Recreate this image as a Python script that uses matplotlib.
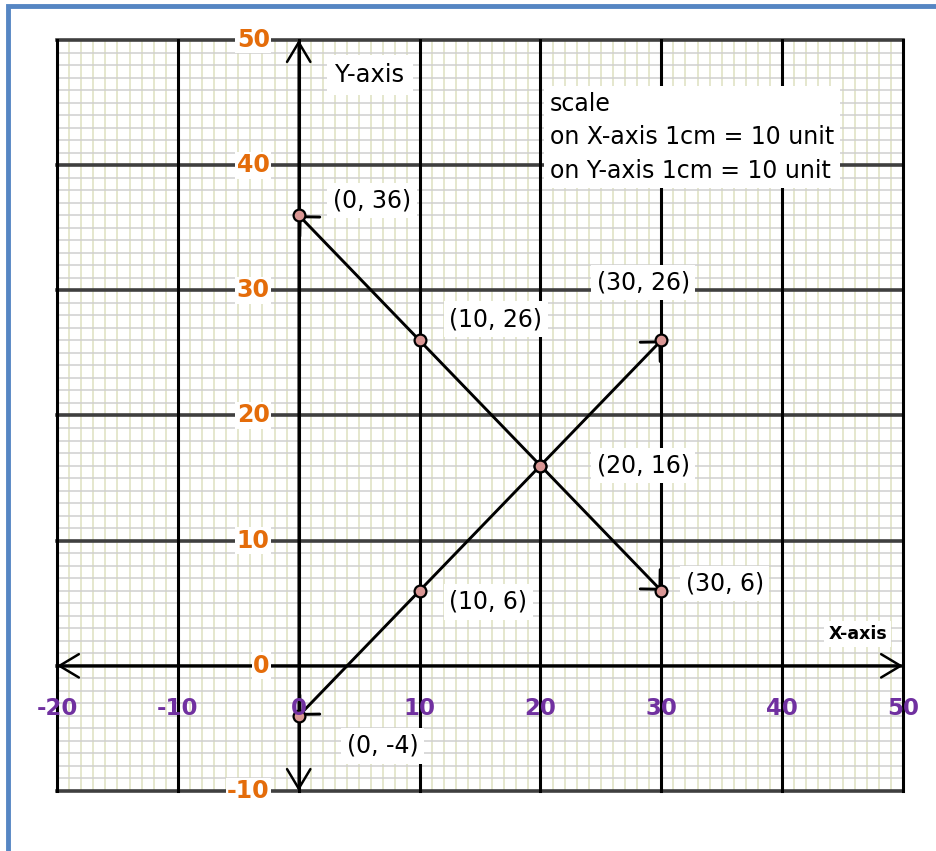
import matplotlib
matplotlib.use('Agg')
import matplotlib.pyplot as plt
from matplotlib.patches import Rectangle
import numpy as np

# data
line1_x = [0, 10, 20, 30]
line1_y = [36, 26, 16, 6]
line2_x = [0, 10, 20, 30]
line2_y = [-4, 6, 16, 26]

x_ticks = [-20, -10, 0, 10, 20, 30, 40, 50]
y_ticks = [-10, 0, 10, 20, 30, 40, 50]

point_labels = ['(0, 36)', '(10, 26)', '(30, 26)', '(20, 16)', '(30, 6)', '(10, 6)', '(0, -4)']
label_x = [6.05, 16.3, 28.5, 28.5, 35.25, 15.7, 6.96]
label_y = [37.2, 27.7, 30.6, 16.0, 6.56, 5.1, -6.4]

scale_text = 'scale\non X-axis 1cm = 10 unit\non Y-axis 1cm = 10 unit'

fig = plt.figure(figsize=(9.36, 8.51), dpi=100)
ax = fig.add_axes([57/936, 1 - 791/851, 846/936, 751/851])
ax.set_xlim(-20, 50)
ax.set_ylim(-10, 50)
ax.axis('off')

# graph paper
for x in np.arange(-20, 51, 1):
    if x % 10:
        ax.axvline(x, color='#dee0c0', lw=1.1, zorder=1)
for y in np.arange(-10, 51, 1):
    if y % 10:
        ax.axhline(y, color='#cfcfcf', lw=1.1, zorder=1)
for y in y_ticks:
    ax.axhline(y, color='#3f3f3f', lw=2.6, zorder=2, clip_on=False)
for x in x_ticks:
    ax.axvline(x, color='black', lw=2.2, zorder=2, clip_on=False)

# axes arrows
arrow_kw = dict(arrowstyle='<->,head_length=0.7,head_width=0.42', lw=1.8, color='black',
                shrinkA=0, shrinkB=0, mutation_scale=20)
ax.annotate('', xy=(-20, 0), xytext=(50, 0), arrowprops=arrow_kw, zorder=4)
ax.annotate('', xy=(0, -10), xytext=(0, 50), arrowprops=arrow_kw, zorder=4)

# data lines with arrows at both ends
line_kw = dict(arrowstyle='<->,head_length=0.5,head_width=0.5', lw=2.1, color='black',
               shrinkA=0, shrinkB=0, mutation_scale=20)
ax.annotate('', xy=(line1_x[0], line1_y[0]), xytext=(line1_x[-1], line1_y[-1]), arrowprops=line_kw, zorder=5)
ax.annotate('', xy=(line2_x[0], line2_y[0]), xytext=(line2_x[-1], line2_y[-1]), arrowprops=line_kw, zorder=5)
ax.plot(line1_x, line1_y, 'o', ms=8.5, mfc='#d99694', mec='black', mew=1.6, zorder=6)
ax.plot(line2_x, line2_y, 'o', ms=8.5, mfc='#d99694', mec='black', mew=1.6, zorder=6)

# tick labels
for y in y_ticks:
    ax.text(-2.4, y, str(y), color='#e46c0a', fontsize=17, fontweight='bold',
            ha='right', va='center', zorder=7,
            bbox=dict(facecolor='white', edgecolor='none', pad=1))
for x in x_ticks:
    ax.text(x, -3.4, str(x), color='#7030a0', fontsize=16.5, fontweight='bold',
            ha='center', va='center', zorder=7)

box = dict(facecolor='white', edgecolor='none', pad=4)
for txt, x, y in zip(point_labels, label_x, label_y):
    ax.text(x, y, txt, fontsize=17, ha='center', va='center', zorder=7, bbox=box)

ax.text(5.9, 47.2, 'Y-axis', fontsize=17.5, ha='center', va='center', zorder=7,
        bbox=dict(facecolor='white', edgecolor='none', pad=6))
ax.text(46.25, 2.56, 'X-axis', fontsize=12.5, fontweight='bold', ha='center', va='center', zorder=7,
        bbox=dict(facecolor='white', edgecolor='none', pad=3))
ax.text(20.78, 42.24, scale_text, fontsize=17, ha='left', va='center', linespacing=1.5, zorder=7,
        bbox=dict(facecolor='white', edgecolor='none', pad=4))

# blue page border
fig.add_artist(Rectangle((8/936, -0.05), 1.2, 1 - 6/851 + 0.05, transform=fig.transFigure,
                         fill=False, edgecolor='#5686c3', lw=3.5))

fig.savefig('out.png', dpi=100)
